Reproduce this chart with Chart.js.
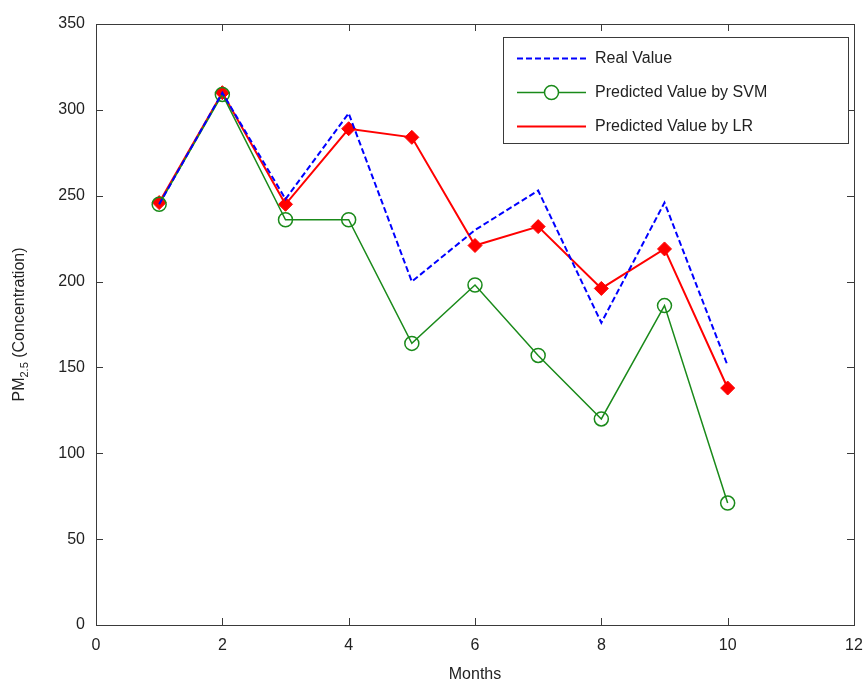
<!DOCTYPE html>
<html>
<head>
<meta charset="utf-8">
<script src="https://cdn.jsdelivr.net/npm/chart.js@4/dist/chart.umd.min.js"></script>
<style>
  html, body { margin: 0; padding: 0; background: #fff; }
  #wrap { width: 865px; height: 684px; }
</style>
</head>
<body>
<div id="wrap"><canvas id="pmChart" width="865" height="684"></canvas></div>
<script>
// ── Data ─────────────────────────────────────────────────────
const months    = [1, 2, 3, 4, 5, 6, 7, 8, 9, 10];
const realValue = [245, 310, 248, 298, 200, 230, 253, 176, 246, 151];
const svmValue  = [245, 309, 236, 236, 164, 198, 157, 120, 186, 71];
const lrValue   = [246, 310, 245, 289, 284, 221, 232, 196, 219, 138];
const seriesNames = ['Real Value', 'Predicted Value by SVM', 'Predicted Value by LR'];

const FONT = 'Liberation Sans, Arial, sans-serif';
const pts = vals => months.map((m, i) => ({ x: m, y: vals[i] }));

// ── Box, inward ticks, y title, legend ───────────────────────
const matlabFrame = {
  id: 'matlabFrame',
  afterDraw(chart) {
    const { ctx, chartArea: a, scales: { x, y } } = chart;
    ctx.save();
    ctx.strokeStyle = '#3a3a3a';
    ctx.lineWidth = 1;
    ctx.strokeRect(a.left + 0.5, a.top + 0.5, a.right - a.left, a.bottom - a.top);

    const tl = 7;
    ctx.beginPath();
    x.ticks.forEach(t => {
      const px = Math.round(x.getPixelForValue(t.value)) + 0.5;
      ctx.moveTo(px, a.bottom); ctx.lineTo(px, a.bottom - tl);
      ctx.moveTo(px, a.top);    ctx.lineTo(px, a.top + tl);
    });
    y.ticks.forEach(t => {
      const py = Math.round(y.getPixelForValue(t.value)) + 0.5;
      ctx.moveTo(a.left, py);  ctx.lineTo(a.left + tl, py);
      ctx.moveTo(a.right, py); ctx.lineTo(a.right - tl, py);
    });
    ctx.stroke();

    // y-axis title with subscript
    ctx.fillStyle = '#222';
    ctx.translate(24, (a.top + a.bottom) / 2);
    ctx.rotate(-Math.PI / 2);
    ctx.textBaseline = 'alphabetic';
    const p1 = 'PM', p3 = ' (Concentration)';
    ctx.font = '11px ' + FONT;
    const wSub = ctx.measureText('2.5').width;
    ctx.font = '16px ' + FONT;
    const w1 = ctx.measureText(p1).width, w3 = ctx.measureText(p3).width;
    let sx = -(w1 + wSub + w3) / 2;
    ctx.fillText(p1, sx, 0); sx += w1;
    ctx.font = '11px ' + FONT;
    ctx.fillText('2.5', sx, 4); sx += wSub;
    ctx.font = '16px ' + FONT;
    ctx.fillText(p3, sx, 0);
    ctx.restore();

    // legend
    ctx.save();
    const lx = 503, ly = 37, lw = 345, lh = 106;
    ctx.fillStyle = '#fff';
    ctx.fillRect(lx, ly, lw, lh);
    ctx.strokeStyle = '#3a3a3a';
    ctx.lineWidth = 1;
    ctx.strokeRect(lx + 0.5, ly + 0.5, lw, lh);
    const rows = [58, 92, 126];
    chart.data.datasets.forEach((ds, i) => {
      const ry = rows[i] + 0.5;
      ctx.strokeStyle = ds.borderColor;
      ctx.lineWidth = ds.borderWidth;
      ctx.setLineDash(ds.borderDash || []);
      ctx.beginPath(); ctx.moveTo(517, ry); ctx.lineTo(586, ry); ctx.stroke();
      ctx.setLineDash([]);
      if (ds.pointStyle === 'circle') {
        ctx.beginPath(); ctx.arc(551.5, ry, ds.pointRadius, 0, Math.PI * 2);
        ctx.fillStyle = '#fff'; ctx.fill();
        ctx.lineWidth = ds.pointBorderWidth; ctx.strokeStyle = ds.pointBorderColor; ctx.stroke();
      }
      ctx.fillStyle = '#222';
      ctx.font = '16px ' + FONT;
      ctx.textBaseline = 'middle';
      ctx.fillText(ds.label, 595, ry);
    });
    ctx.restore();
  }
};

new Chart(document.getElementById('pmChart'), {
  type: 'line',
  data: {
    datasets: [
      {
        label: seriesNames[0], data: pts(realValue),
        borderColor: '#0000ff', borderWidth: 2, borderDash: [6, 3],
        pointRadius: 0, fill: false, tension: 0
      },
      {
        label: seriesNames[1], data: pts(svmValue),
        borderColor: '#1a8a1a', borderWidth: 1.5,
        pointStyle: 'circle', pointRadius: 7, pointBorderWidth: 1.5,
        pointBorderColor: '#1a8a1a', pointBackgroundColor: 'rgba(0,0,0,0)',
        fill: false, tension: 0
      },
      {
        label: seriesNames[2], data: pts(lrValue),
        borderColor: '#ff0000', borderWidth: 2,
        pointStyle: 'rectRot', pointRadius: 7, pointBorderWidth: 1,
        pointBorderColor: '#ff0000', pointBackgroundColor: '#ff0000',
        fill: false, tension: 0
      }
    ]
  },
  options: {
    responsive: false,
    animation: false,
    layout: { padding: { left: 0, right: 11, top: 24, bottom: 0 } },
    plugins: { legend: { display: false }, tooltip: { enabled: false } },
    scales: {
      x: {
        type: 'linear', min: 0, max: 12,
        ticks: { stepSize: 2, padding: 11, color: '#222', font: { family: FONT, size: 16 } },
        grid: { display: false, drawTicks: false },
        border: { display: false },
        title: { display: true, text: 'Months', color: '#222', font: { family: FONT, size: 16 }, padding: { top: 0, bottom: 0 } },
        afterFit: s => { s.height = 59; s.paddingLeft = 0; s.paddingRight = 0; }
      },
      y: {
        min: 0, max: 350,
        ticks: { stepSize: 50, padding: 11, color: '#222', font: { family: FONT, size: 16 } },
        grid: { display: false, drawTicks: false },
        border: { display: false },
        afterFit: s => { s.width = 96; s.paddingTop = 0; s.paddingBottom = 0; }
      }
    }
  },
  plugins: [matlabFrame]
});
</script>
</body>
</html>
